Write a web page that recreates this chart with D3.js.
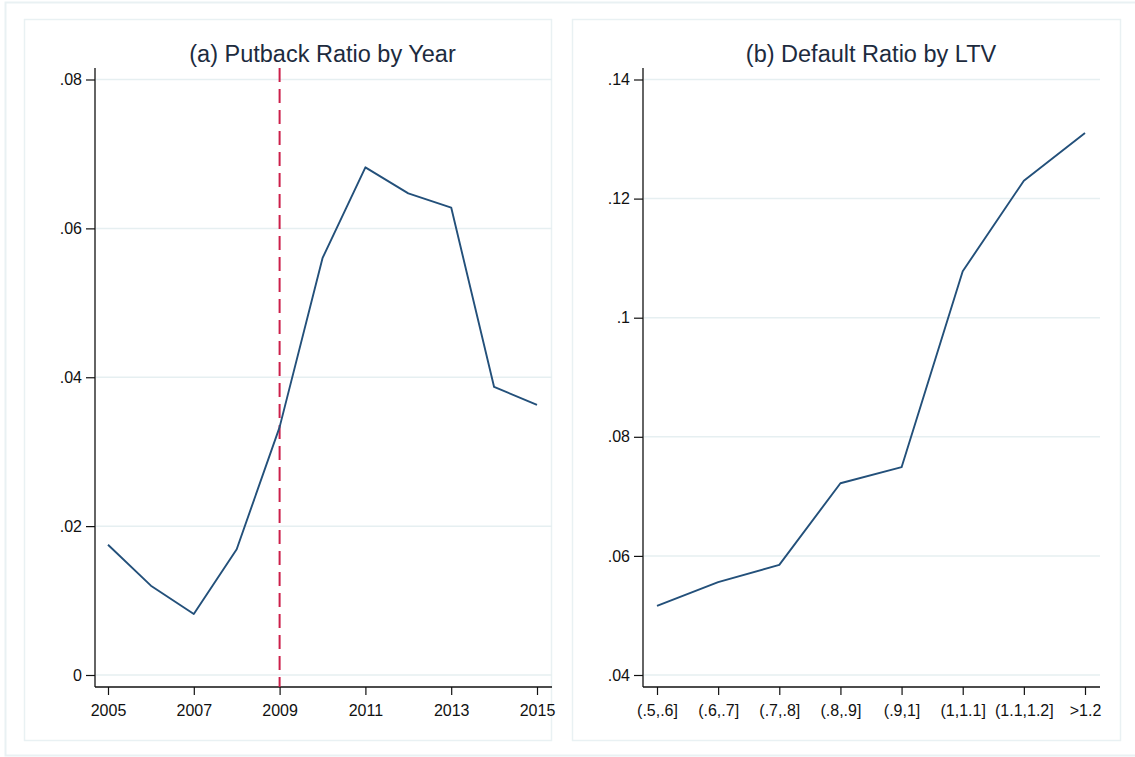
<!DOCTYPE html>
<html>
<head>
<meta charset="utf-8">
<script src="https://cdn.jsdelivr.net/npm/d3@7"></script>
<style>
  html, body { margin: 0; padding: 0; background: #fff; }
  svg { display: block; font-family: "Liberation Sans", Arial, sans-serif; }
</style>
</head>
<body>
<svg id="chart" width="1135" height="757"></svg>
<script>
// Panel (a): putback ratio by origination year
const years = [2005, 2006, 2007, 2008, 2009, 2010, 2011, 2012, 2013, 2014, 2015];
const putbackRatio = [0.0175, 0.0120, 0.0082, 0.0169, 0.0333, 0.0560, 0.0682, 0.0647, 0.0628, 0.0387, 0.0363];
const yearTicks = [2005, 2007, 2009, 2011, 2013, 2015];
const putbackTicks = [0, 0.02, 0.04, 0.06, 0.08];
const putbackTickLabels = ["0", ".02", ".04", ".06", ".08"];
const markYear = 2009;

// Panel (b): default ratio by LTV bucket
const ltvBuckets = ["(.5,.6]", "(.6,.7]", "(.7,.8]", "(.8,.9]", "(.9,1]", "(1,1.1]", "(1.1,1.2]", ">1.2"];
const defaultRatio = [0.0516, 0.0556, 0.0585, 0.0722, 0.0749, 0.1078, 0.1230, 0.1310];
const defaultTicks = [0.04, 0.06, 0.08, 0.10, 0.12, 0.14];
const defaultTickLabels = [".04", ".06", ".08", ".1", ".12", ".14"];

const titles = ["(a) Putback Ratio by Year", "(b) Default Ratio by LTV"];

const svg = d3.select("#chart");
const frameColor = "#e9f1f3";
const gridColor = "#e6eff1";
const lineColor = "#23507a";
const textColor = "#111";
const titleColor = "#1d2b3e";
const tickFont = 16;

// outer frame
svg.append("rect").attr("x", 5.5).attr("y", 2.5).attr("width", 1140).attr("height", 753)
  .attr("fill", "none").attr("stroke", frameColor).attr("stroke-width", 2);

// panel frames
const panels = [
  { x0: 24, x1: 551, top: 19, bottom: 740 },
  { x0: 572, x1: 1120, top: 19, bottom: 740 }
];
panels.forEach(p => {
  svg.append("rect").attr("x", p.x0 + 0.5).attr("y", p.top + 0.5)
    .attr("width", p.x1 - p.x0).attr("height", p.bottom - p.top)
    .attr("fill", "none").attr("stroke", frameColor).attr("stroke-width", 1.5);
});

function drawPanel(cfg) {
  const g = svg.append("g");
  const { x, y, plot } = cfg;

  // gridlines
  g.selectAll("line.grid").data(cfg.yTicks).join("line")
    .attr("x1", plot.left + 1).attr("x2", plot.right)
    .attr("y1", d => y(d)).attr("y2", d => y(d))
    .attr("stroke", gridColor).attr("stroke-width", 1.5);

  // y axis
  const yAxis = d3.axisLeft(y).tickValues(cfg.yTicks)
    .tickFormat((d, i) => cfg.yLabels[i]).tickSize(9).tickPadding(4);
  const gy = g.append("g").attr("transform", `translate(${plot.left},0)`).call(yAxis);
  gy.select(".domain").attr("d", `M0,${plot.top}V${plot.bottom}`).attr("stroke", "#111").attr("stroke-width", 1.3);
  gy.selectAll(".tick line").attr("stroke", "#111").attr("stroke-width", 1.2);
  gy.selectAll(".tick text").attr("font-size", tickFont).attr("fill", textColor)
    .attr("font-family", "'Liberation Sans', Arial, sans-serif");

  // x axis
  const xAxis = d3.axisBottom(x).tickValues(cfg.xTicks).tickFormat(cfg.xFormat)
    .tickSize(8).tickPadding(10);
  const gx = g.append("g").attr("transform", `translate(0,${plot.bottom})`).call(xAxis);
  gx.select(".domain").attr("d", `M${plot.left},0H${plot.right}`).attr("stroke", "#111").attr("stroke-width", 1.3);
  gx.selectAll(".tick line").attr("stroke", "#111").attr("stroke-width", 1.2);
  gx.selectAll(".tick text").attr("font-size", tickFont).attr("fill", textColor)
    .attr("font-family", "'Liberation Sans', Arial, sans-serif");

  if (cfg.extra) cfg.extra(g);

  // series line
  g.append("path").datum(cfg.values)
    .attr("fill", "none").attr("stroke", lineColor).attr("stroke-width", 1.9)
    .attr("stroke-linejoin", "round")
    .attr("d", d3.line().x((d, i) => x(cfg.xs[i])).y(d => y(d)));

  // title
  g.append("text").attr("x", cfg.titleX).attr("y", 61.5)
    .attr("text-anchor", "middle").attr("font-size", 23.5).attr("fill", titleColor)
    .text(cfg.title);
}

// panel (a)
const plotA = { left: 95, right: 552, top: 68, bottom: 687 };
const xA = d3.scaleLinear().domain([2005, 2015]).range([108, 537]);
const yA = d3.scaleLinear().domain([0, 0.08]).range([675, 79.5]);
drawPanel({
  x: xA, y: yA, plot: plotA,
  xs: years, values: putbackRatio,
  xTicks: yearTicks, xFormat: d => String(d),
  yTicks: putbackTicks, yLabels: putbackTickLabels,
  title: titles[0], titleX: 322.5,
  extra: g => {
    g.append("line")
      .attr("x1", xA(markYear)).attr("x2", xA(markYear))
      .attr("y1", plotA.top).attr("y2", plotA.bottom)
      .attr("stroke", "#cc1f4a").attr("stroke-width", 2)
      .attr("stroke-dasharray", "14,7");
  }
});

// panel (b)
const plotB = { left: 643, right: 1100, top: 68, bottom: 687 };
const xB = d3.scalePoint().domain(ltvBuckets).range([657, 1085]);
const yB = d3.scaleLinear().domain([0.04, 0.14]).range([675, 79.5]);
drawPanel({
  x: xB, y: yB, plot: plotB,
  xs: ltvBuckets, values: defaultRatio,
  xTicks: ltvBuckets, xFormat: d => d,
  yTicks: defaultTicks, yLabels: defaultTickLabels,
  title: titles[1], titleX: 871
});
</script>
</body>
</html>
